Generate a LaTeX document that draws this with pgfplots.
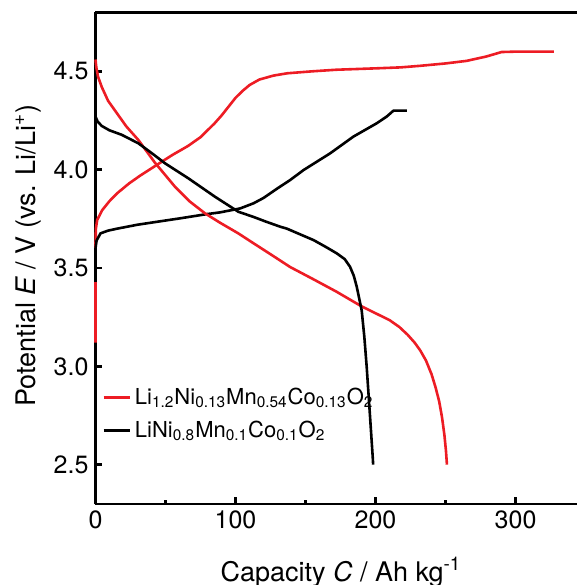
\documentclass[border=0pt]{standalone}
\usepackage{fontspec}
\setmainfont{TeX Gyre Heros}
\usepackage{pgfplots}
\pgfplotsset{compat=1.18}
\definecolor{cred}{HTML}{ED1C24}
\newcommand{\fs}{\fontsize{12.5}{15}\selectfont}
\newcommand{\fl}{\fontsize{13.5}{16}\selectfont}
\newcommand{\fg}{\fontsize{11}{13}\selectfont}

\begin{document}
\begin{tikzpicture}
\begin{axis}[
    name=ax,
    scale only axis,
    width=240.75pt, height=245.9pt,
    xmin=0, xmax=343.8,
    ymin=2.3, ymax=4.8,
    axis x line*=bottom, axis y line*=left,
    axis line style={line width=1.4pt, -},
    tick align=inside,
    major tick length=3.5pt, minor tick length=2pt,
    tick style={line width=1.2pt, black},
    xtick={0,100,200,300}, minor xtick={50,150,250},
    ytick={2.5,3.0,3.5,4.0,4.5},
    yticklabel style={/pgf/number format/.cd, fixed, fixed zerofill, precision=1},
    /pgf/number format/assume math mode=true,
    tick label style={font=\fs},
    label style={font=\fl},
    xlabel={Capacity \textit{C} / Ah kg\textsuperscript{-1}},
    ylabel={Potential \textit{E} / V (vs. Li/Li\textsuperscript{+})},
    xlabel style={at={(axis description cs:0.51,-0.157)}, anchor=base},
    ylabel style={at={(axis description cs:-0.14,0.505)}, anchor=center},
    clip=false,
    legend style={draw=none, fill=none, inner sep=0pt, font=\fg,
        at={(axis description cs:0.0135,0.183)}, anchor=west,
        row sep=3pt},
    legend cell align=left,
    legend image code/.code={\draw[#1] (0pt,0pt) -- (13pt,0pt);},
    every axis plot/.append style={line width=1.3pt, line join=round},
]
% Li-rich, charge
\addplot[cred] coordinates {
    (0,3.12) (0,3.43) (0,3.62) (0.3,3.70) (1.2,3.744) (4.8,3.794) (10,3.84)
    (15.5,3.88) (24,3.93) (32,3.97) (44,4.025) (55,4.075) (66,4.12)
    (75,4.165) (80,4.20) (85,4.235) (90,4.275) (95,4.32) (100,4.365)
    (105,4.40) (110,4.43) (117,4.458) (127,4.478) (137,4.49) (155,4.50)
    (172,4.508) (200,4.515) (218,4.52) (232,4.528) (250,4.54) (265,4.553)
    (279,4.575) (290,4.598) (300,4.60) (327.4,4.60)
};
% NCM811, charge
\addplot[black] coordinates {
    (0,3.43) (0,3.60) (0.8,3.64) (3.6,3.676) (9,3.69) (15.5,3.70) (30,3.72)
    (44,3.735) (60,3.752) (79.6,3.774) (89.2,3.783) (103.4,3.803)
    (112.9,3.829) (120,3.856) (130,3.905) (139,3.947) (148.6,3.998)
    (167.6,4.083) (184.2,4.168) (200.9,4.236) (208,4.27) (212.8,4.30)
    (222.3,4.30)
};
% Li-rich, discharge
\addplot[cred, forget plot] coordinates {
    (0,4.56) (0.6,4.52) (1.8,4.473) (4.5,4.42) (9,4.35) (14,4.30) (22,4.22)
    (30.6,4.151) (42.5,4.035) (56.8,3.913) (67,3.84) (78.2,3.778) (89,3.73)
    (102,3.676) (113,3.625) (125,3.57) (139,3.505) (155,3.445)
    (172,3.38) (190,3.305) (200,3.27) (210,3.235) (217,3.20) (223,3.16)
    (228,3.12) (232,3.08) (236,3.03) (240,2.96) (243,2.89) (245.5,2.82)
    (247.5,2.74) (249.2,2.65) (250.3,2.57) (251,2.50)
};
% NCM811, discharge
\addplot[black, forget plot] coordinates {
    (0,4.27) (1.5,4.245) (4.5,4.222) (10,4.20) (18.8,4.177) (30.6,4.134)
    (40,4.085) (49.7,4.032) (66.3,3.956) (85.4,3.862) (102,3.786)
    (112.7,3.76) (122,3.735) (131.9,3.71) (136.7,3.70) (155.7,3.642)
    (165,3.605) (172.4,3.574) (178,3.545) (181.8,3.506) (184.5,3.46)
    (186.6,3.404) (190.1,3.285) (192,3.15) (193.7,2.996) (196.1,2.742)
    (198,2.538) (198.3,2.50)
};
\legend{Li\textsubscript{1.2}Ni\textsubscript{0.13}Mn\textsubscript{0.54}Co\textsubscript{0.13}O\textsubscript{2},
        LiNi\textsubscript{0.8}Mn\textsubscript{0.1}Co\textsubscript{0.1}O\textsubscript{2}}
\draw[line width=1.4pt] (rel axis cs:0,1) -- (rel axis cs:1,1);
\end{axis}
\pgfresetboundingbox
\path ([xshift=-47.75pt,yshift=-40.5pt]ax.south west) rectangle ([yshift=6.15pt]ax.north east);
\end{tikzpicture}
\end{document}
